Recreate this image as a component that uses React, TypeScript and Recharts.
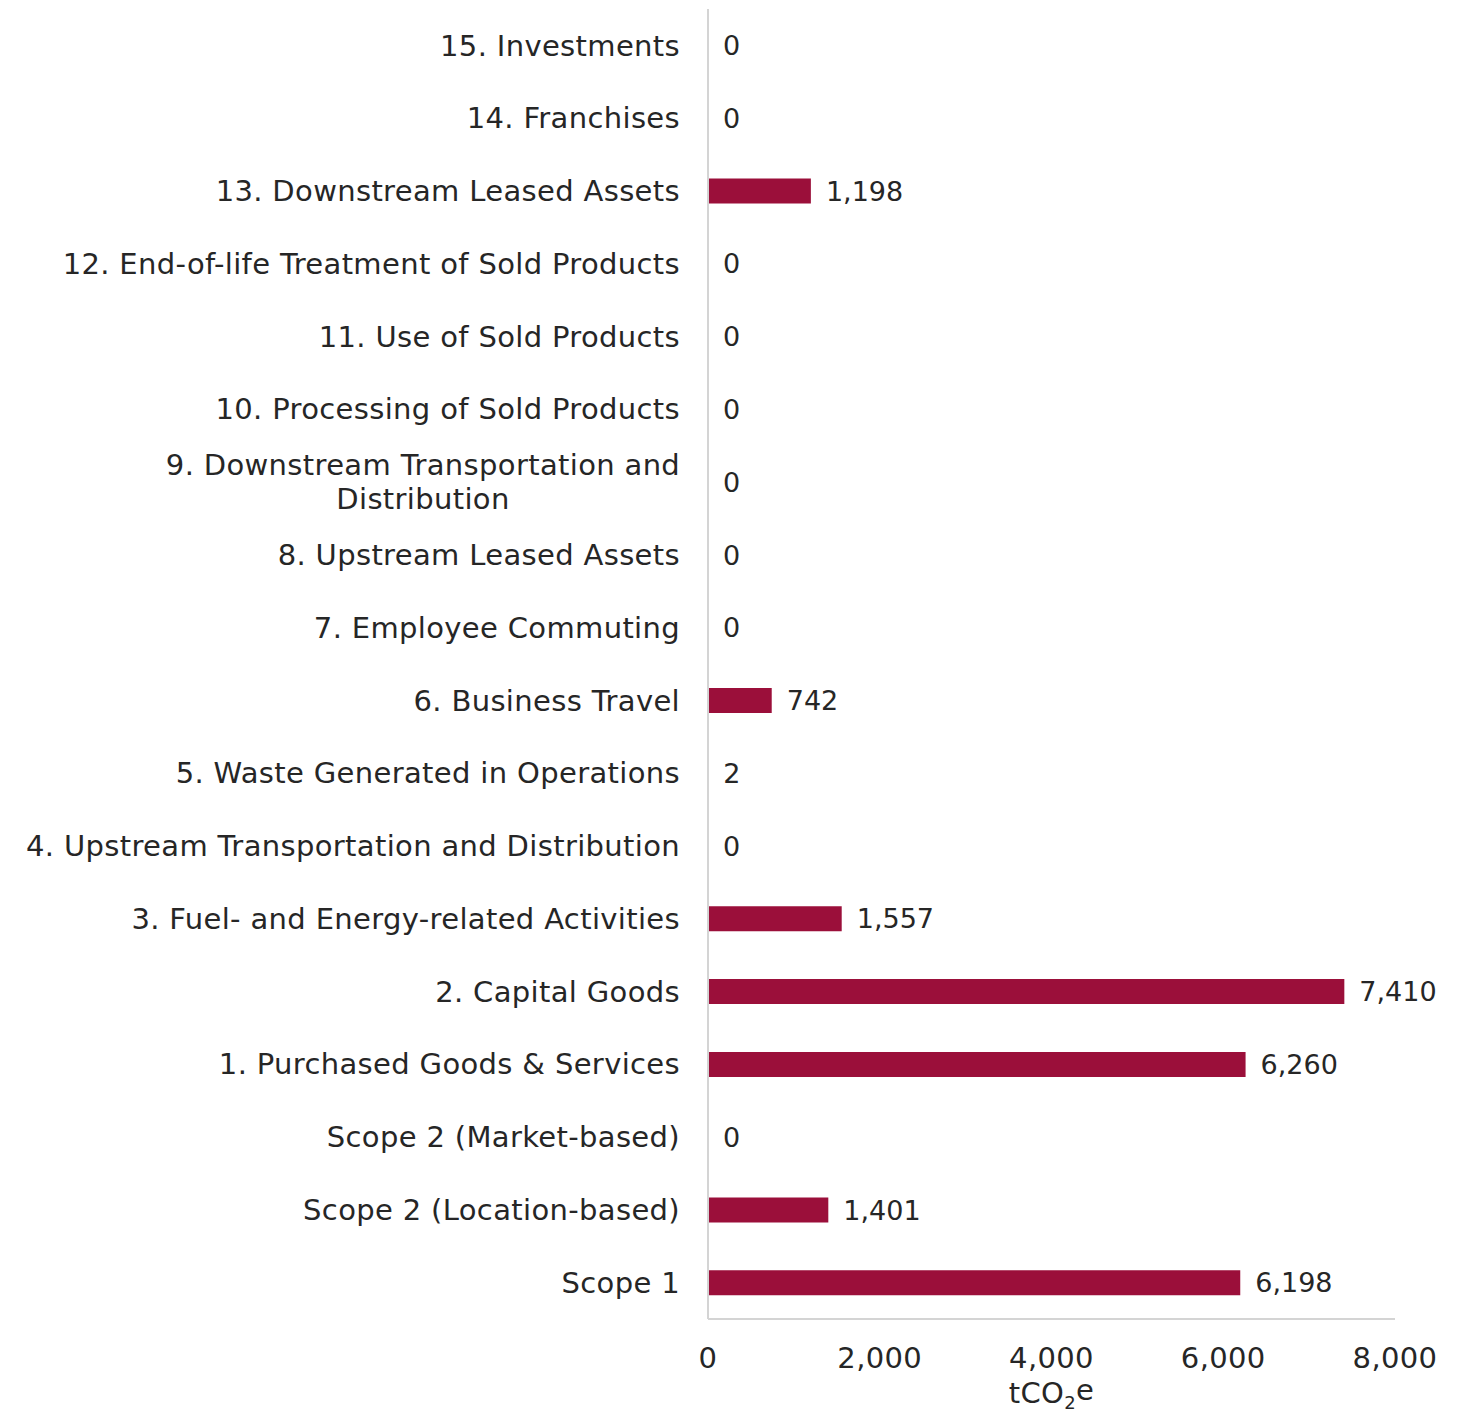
import { useLayoutEffect, useRef, useState } from "react"
import { BarChart, Bar, XAxis, YAxis, LabelList, Label } from "recharts"

// top-to-bottom order as shown in the chart
const categories = [
  "15. Investments",
  "14. Franchises",
  "13. Downstream Leased Assets",
  "12. End-of-life Treatment of Sold Products",
  "11. Use of Sold Products",
  "10. Processing of Sold Products",
  "9. Downstream Transportation and\nDistribution",
  "8. Upstream Leased Assets",
  "7. Employee Commuting",
  "6. Business Travel",
  "5. Waste Generated in Operations",
  "4. Upstream Transportation and Distribution",
  "3. Fuel- and Energy-related Activities",
  "2. Capital Goods",
  "1. Purchased Goods & Services",
  "Scope 2 (Market-based)",
  "Scope 2 (Location-based)",
  "Scope 1",
]

const emissions = [0, 0, 1198, 0, 0, 0, 0, 0, 0, 742, 2, 0, 1557, 7410, 6260, 0, 1401, 6198]

const xTicks = [0, 2000, 4000, 6000, 8000]

const data = categories.map((name, i) => ({ name, value: emissions[i] }))

const FONT = "'DejaVu Sans', sans-serif"
const TEXT = "#262626"
const AXIS = "#d4d4d4"
const BAR = "#9b0f3a"
const textStyle = { fontFamily: FONT, fontSize: 29, letterSpacing: 0.35, fill: TEXT }
const valueStyle = { fontFamily: FONT, fontSize: 27, fill: TEXT }

const fmt = (v: number) => Number(v).toLocaleString("en-US")

function CategoryTick({ x, y, payload }: any) {
  const lines = String(payload.value).split("\n")
  const ref = useRef<SVGTextElement>(null)
  const [w, setW] = useState(514)

  useLayoutEffect(() => {
    if (ref.current && lines.length > 1) {
      const len = ref.current.getComputedTextLength()
      if (Math.abs(len - w) > 0.5) setW(len)
    }
  })

  if (lines.length === 1) {
    return (
      <text x={x} y={y} dy="0.35em" textAnchor="end" style={textStyle}>
        {lines[0]}
      </text>
    )
  }
  return (
    <g>
      <text ref={ref} x={x} y={y - 17} dy="0.35em" textAnchor="end" style={{ ...textStyle, fill: "none" }}>
        {lines[0]}
      </text>
      {lines.map((l, i) => (
        <text key={i} x={x - w / 2} y={y - 17 + i * 34} dy="0.35em" textAnchor="middle" style={textStyle}>
          {l}
        </text>
      ))}
    </g>
  )
}

function UnitLabel({ viewBox }: any) {
  const cx = viewBox.x + viewBox.width / 2
  return (
    <text x={cx} y={1393} dy="0.35em" textAnchor="middle" style={textStyle}>
      tCO
      <tspan fontSize={18} dy="0.3em">2</tspan>
      <tspan dy="-0.3em">e</tspan>
    </text>
  )
}

export default function App() {
  return (
    <div style={{ position: "absolute", left: 0, top: 0, width: 1471, height: 1416, background: "#fff" }}>
      <BarChart
        width={1471}
        height={1416}
        data={data}
        layout="vertical"
        margin={{ top: 9, right: 76, left: 0, bottom: 0 }}
        barSize={25}
      >
        <XAxis
          type="number"
          domain={[0, 8000]}
          ticks={xTicks}
          tickFormatter={fmt}
          interval={0}
          axisLine={{ stroke: AXIS, strokeWidth: 2 }}
          tickLine={false}
          tickMargin={22}
          tick={textStyle}
          height={97}
        >
          <Label content={<UnitLabel />} />
        </XAxis>
        <YAxis
          type="category"
          dataKey="name"
          width={708}
          interval={0}
          axisLine={{ stroke: AXIS, strokeWidth: 2 }}
          tickLine={false}
          tickSize={8}
          tickMargin={20}
          tick={<CategoryTick />}
        />
        <Bar dataKey="value" fill={BAR} minPointSize={0.01} isAnimationActive={false}>
          <LabelList
            dataKey="value"
            position="right"
            offset={15}
            formatter={(v: any) => fmt(v)}
            style={valueStyle}
          />
        </Bar>
      </BarChart>
    </div>
  )
}
